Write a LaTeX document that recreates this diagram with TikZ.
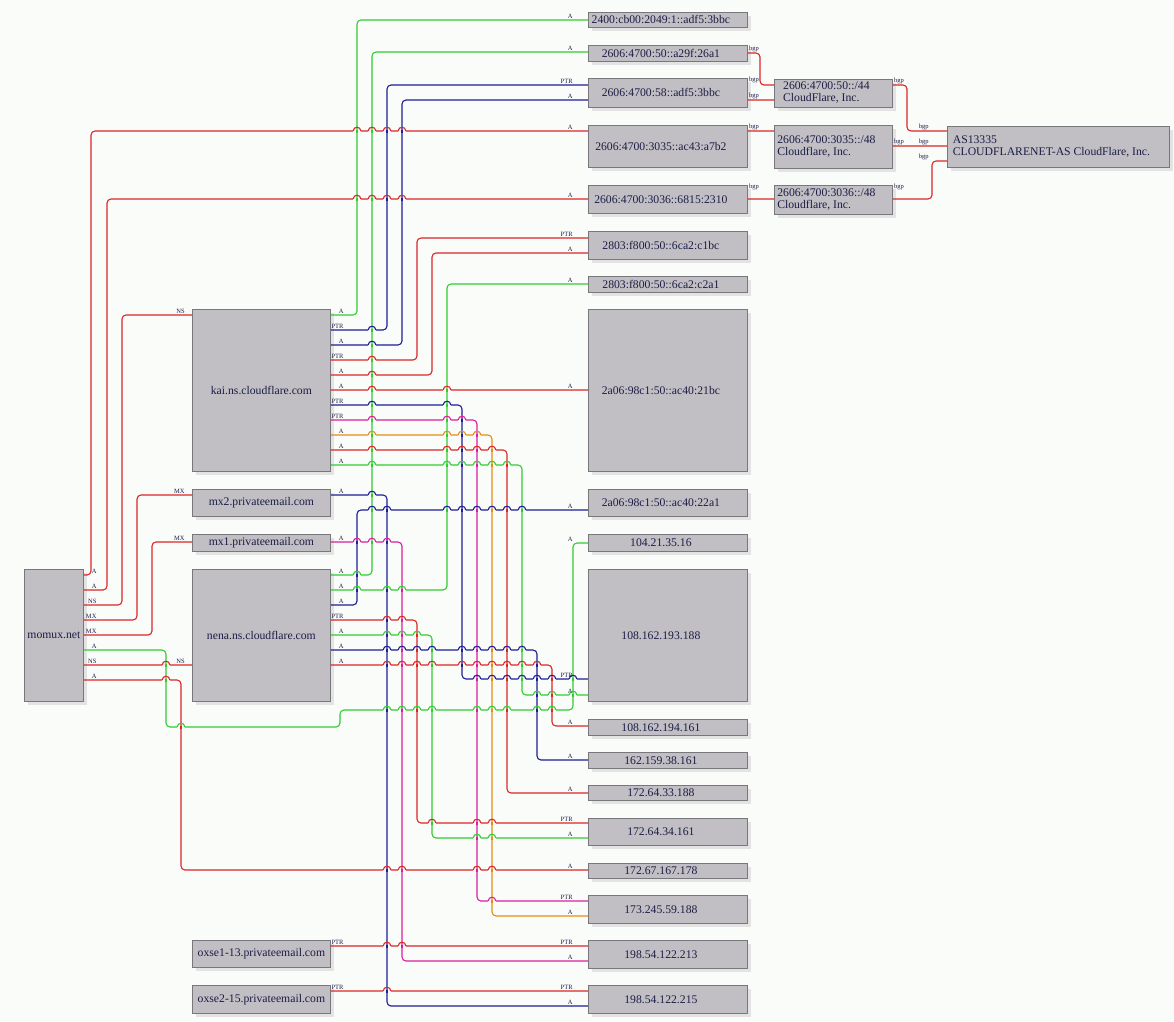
\documentclass[tikz,border=0pt]{standalone}
\usepackage{fontspec}
\setmainfont{Liberation Serif}
\usepackage{tikz}
\usetikzlibrary{shadows}

\definecolor{paper}{RGB}{250,252,250}
\definecolor{boxfill}{RGB}{193,191,195}
\definecolor{boxline}{RGB}{120,120,124}
\definecolor{ink}{RGB}{28,28,70}
\definecolor{wred}{RGB}{218,38,38}
\definecolor{wgreen}{RGB}{48,204,48}
\definecolor{wblue}{RGB}{30,30,150}
\definecolor{wpink}{RGB}{218,30,160}
\definecolor{worange}{RGB}{228,140,20}

\newcommand\boxfont{\fontsize{11.7}{12.2}\selectfont}
\newcommand\tagfont{\fontsize{6.5}{7}\selectfont}
\newcommand\twoline[2]{\begin{tabular}{@{}l@{}}#1\\#2\end{tabular}}

\tikzset{
  box/.style={draw=boxline, fill=boxfill, line width=0.8pt, anchor=north west,
    inner sep=0pt, text=ink, font=\boxfont,
    drop shadow={shadow xshift=4pt, shadow yshift=-4pt, fill=black!11, opacity=1}},
  rbox/.style={box, execute at begin node={\hspace*{-14pt}}},
  wire/.style={line width=1.1pt, rounded corners=4pt, line join=round},
  tail/.style={anchor=south east, xshift=14pt, inner sep=0.8pt, font=\tagfont, text=ink},
  head/.style={anchor=south east, inner sep=0.8pt, font=\tagfont, text=ink},
  bgptail/.style={anchor=south west, inner sep=0.8pt, font=\tagfont, text=ink},
  bgphead/.style={anchor=south east, xshift=-17pt, inner sep=0.8pt, font=\tagfont, text=ink},
  flat/.style={sharp corners, to path={-- ++(0.6,0.02) -- ++(0.6,-0.02) -- (\tikztotarget) \tikztonodes}},
}

\begin{document}
\begin{tikzpicture}[x=1pt, y=-1pt]
\useasboundingbox (0,0) rectangle (1174,1021);
\fill[paper] (0,0) rectangle (1174,1021);

\node[box, minimum width=59, minimum height=132] (momux) at (24,569) {momux.net};
\node[box, minimum width=138, minimum height=162] (kai) at (192,309) {kai.ns.cloudflare.com};
\node[box, minimum width=138, minimum height=27] (mxtwo) at (192,489) {mx2.privateemail.com};
\node[box, minimum width=138, minimum height=17] (mxone) at (192,534) {mx1.privateemail.com};
\node[box, minimum width=138, minimum height=132] (nena) at (192,569) {nena.ns.cloudflare.com};
\node[box, minimum width=138, minimum height=27] (oxone) at (192,940) {oxse1-13.privateemail.com};
\node[box, minimum width=138, minimum height=28] (oxtwo) at (192,985) {oxse2-15.privateemail.com};

\node[rbox, minimum width=159, minimum height=15] (ipcb) at (588,12) {2400:cb00:2049:1::adf5:3bbc};
\node[rbox, minimum width=159, minimum height=16] (ipa29f) at (588,45) {2606:4700:50::a29f:26a1};
\node[rbox, minimum width=159, minimum height=29] (ipadf5) at (588,78) {2606:4700:58::adf5:3bbc};
\node[rbox, minimum width=159, minimum height=42] (ip3035) at (588,125) {2606:4700:3035::ac43:a7b2};
\node[rbox, minimum width=159, minimum height=28] (ip6815) at (588,185) {2606:4700:3036::6815:2310};
\node[rbox, minimum width=159, minimum height=28] (ipc1bc) at (588,231) {2803:f800:50::6ca2:c1bc};
\node[rbox, minimum width=159, minimum height=16] (ipc2a1) at (588,276) {2803:f800:50::6ca2:c2a1};
\node[rbox, minimum width=159, minimum height=162] (ip21bc) at (588,309) {2a06:98c1:50::ac40:21bc};
\node[rbox, minimum width=159, minimum height=27] (ip22a1) at (588,489) {2a06:98c1:50::ac40:22a1};
\node[rbox, minimum width=159, minimum height=17] (ip104) at (588,534) {104.21.35.16};
\node[rbox, minimum width=159, minimum height=132] (ip193) at (588,569) {108.162.193.188};
\node[rbox, minimum width=159, minimum height=16] (ip194) at (588,719) {108.162.194.161};
\node[rbox, minimum width=159, minimum height=16] (ip162) at (588,752) {162.159.38.161};
\node[rbox, minimum width=159, minimum height=15] (ip33) at (588,785) {172.64.33.188};
\node[rbox, minimum width=159, minimum height=27] (ip34) at (588,818) {172.64.34.161};
\node[rbox, minimum width=159, minimum height=15] (ip167) at (588,863) {172.67.167.178};
\node[rbox, minimum width=159, minimum height=28] (ip173) at (588,895) {173.245.59.188};
\node[rbox, minimum width=159, minimum height=28] (ip213) at (588,940) {198.54.122.213};
\node[rbox, minimum width=159, minimum height=28] (ip215) at (588,985) {198.54.122.215};

\node[rbox, minimum width=118, minimum height=28] (net50) at (774,79) {\twoline{2606:4700:50::/44}{CloudFlare, Inc.}};
\node[rbox, minimum width=118, minimum height=43] (net3035) at (774,125) {\twoline{2606:4700:3035::/48}{Cloudflare, Inc.}};
\node[rbox, minimum width=118, minimum height=29] (net3036) at (774,185) {\twoline{2606:4700:3036::/48}{Cloudflare, Inc.}};
\node[rbox, minimum width=222, minimum height=41] (as13335) at (947,126) {\twoline{AS13335}{CLOUDFLARENET-AS CloudFlare, Inc.}};

\gdef\hsegs{0/0/0/wred}
\gdef\vsegs{0/0/0/wred}

\foreach \src/\ya/\xc/\yb/\dst/\col/\tl/\hl/\ho in {
  momux/575/91/131/ip3035/wred/A/A/14,
  momux/590/107/199/ip6815/wred/A/A/14,
  momux/605/122/315/kai/wred/NS/NS/6,
  momux/620/137/495/mxtwo/wred/MX/MX/6,
  momux/635/152/542/mxone/wred/MX/MX/6,
  momux/680/181/870/ip167/wred/A/A/14,
  kai/315/357/20/ipcb/wgreen/A/A/14,
  kai/330/387/85/ipadf5/wblue/PTR/PTR/14,
  kai/345/402/100/ipadf5/wblue/A/A/14,
  kai/360/417/238/ipc1bc/wred/PTR/PTR/14,
  kai/375/432/253/ipc1bc/wred/A/A/14,
  kai/405/462/679/ip193/wblue/PTR/PTR/14,
  kai/420/477/901/ip173/wpink/PTR/PTR/14,
  kai/435/492/916/ip173/worange/A/A/14,
  kai/450/507/793/ip33/wred/A/A/14,
  kai/465/522/695/ip193/wgreen/A/A/14,
  mxtwo/495/387/1006/ip215/wblue/A/A/14,
  mxone/542/402/961/ip213/wpink/A/A/14,
  nena/575/372/52/ipa29f/wgreen/A/A/14,
  nena/590/447/284/ipc2a1/wgreen/A/A/14,
  nena/605/357/510/ip22a1/wblue/A/A/14,
  nena/620/417/823/ip34/wred/PTR/PTR/14,
  nena/635/432/838/ip34/wgreen/A/A/14,
  nena/650/537/760/ip162/wblue/A/A/14,
  nena/665/552/726/ip194/wred/A/A/14}{
  \draw[wire, \col] (\src.east |- 0,\ya) node[tail] {\tl} -- (\xc,\ya) -- (\xc,\yb)
    -- (\dst.west |- 0,\yb) node[head, xshift=-\ho pt] {\hl};
  \path (\src.east); \pgfgetlastxy{\sx}{\dump}
  \path (\dst.west); \pgfgetlastxy{\dx}{\dump}
  \pgfmathsetmacro\sx{\sx}
  \pgfmathsetmacro\dx{\dx}
  \pgfmathsetmacro\ylo{min(\ya,\yb)}
  \pgfmathsetmacro\yhi{max(\ya,\yb)}
  \xdef\hsegs{\hsegs,\sx/\xc/\ya/\col,\xc/\dx/\yb/\col}
  \xdef\vsegs{\vsegs,\xc/\ylo/\yhi/\col}
}

\foreach \src/\yy/\dst/\col/\tl/\hl/\ho in {
  momux/665/nena/wred/NS/NS/6,
  kai/390/ip21bc/wred/A/A/14,
  oxone/946/ip213/wred/PTR/PTR/14,
  oxtwo/991/ip215/wred/PTR/PTR/14}{
  \draw[wire, \col] (\src.east |- 0,\yy) node[tail] {\tl}
    to[flat] (\dst.west |- 0,\yy) node[head, xshift=-\ho pt] {\hl};
  \path (\src.east); \pgfgetlastxy{\sx}{\dump}
  \path (\dst.west); \pgfgetlastxy{\dx}{\dump}
  \pgfmathsetmacro\sx{\sx}
  \pgfmathsetmacro\dx{\dx}
  \xdef\hsegs{\hsegs,\sx/\dx/\yy/\col}
}

\draw[wire, wgreen] (momux.east |- 0,650) node[tail] {A} -- (166,650) -- (166,727) -- (340,727)
  -- (340,710) -- (573,710) -- (573,543) -- (ip104.west |- 0,543) node[head, xshift=-14pt] {A};
\xdef\hsegs{\hsegs,83/166/650/wgreen,166/340/727/wgreen,340/573/710/wgreen,573/588/543/wgreen}
\xdef\vsegs{\vsegs,166/650/727/wgreen,340/710/727/wgreen,573/543/710/wgreen}

\draw[wire, wred] (ipa29f.east |- 0,53) node[bgptail] {bgp} -- (760,53) -- (760,85) -- (net50.west |- 0,85);
\draw[wire, wred] (ipadf5.east |- 0,100) node[bgptail] {bgp} node[bgptail, yshift=16pt] {bgp} to[flat] (net50.west |- 0,100);
\draw[wire, wred] (ip3035.east |- 0,131) node[bgptail] {bgp} to[flat] (net3035.west |- 0,131);
\draw[wire, wred] (ip6815.east |- 0,199) node[bgptail, yshift=8pt] {bgp} to[flat] (net3036.west |- 0,199);
\draw[wire, wred] (net50.east |- 0,85) node[bgptail] {bgp} -- (907,85) -- (907,131)
  -- (as13335.west |- 0,131) node[bgphead] {bgp};
\draw[wire, wred] (net3035.east |- 0,146) node[bgptail] {bgp} to[flat] (as13335.west |- 0,146) node[bgphead] {bgp};
\draw[wire, wred] (net3036.east |- 0,199) node[bgptail, yshift=8pt] {bgp} -- (932,199) -- (932,161)
  -- (as13335.west |- 0,161) node[bgphead] {bgp};

\foreach \hxa/\hxb/\hy/\hc in \hsegs {
  \foreach \vx/\vya/\vyb/\vc in \vsegs {
    \pgfmathtruncatemacro\hit{and(and(\vx>\hxa+1,\vx<\hxb-1),and(\hy>\vya+1,\hy<\vyb-1))}
    \ifnum\hit=1
      \fill[paper] (\vx-3.8,\hy-1) rectangle (\vx+3.8,\hy+1);
      \draw[\vc, line width=1.1pt] (\vx,\hy-1.5) -- (\vx,\hy+1.5);
      \draw[\hc, line width=1.1pt] (\vx-3.8,\hy) .. controls (\vx-3.8,\hy-5) and (\vx+3.8,\hy-5) .. (\vx+3.8,\hy);
    \fi
  }
}
\end{tikzpicture}
\end{document}
